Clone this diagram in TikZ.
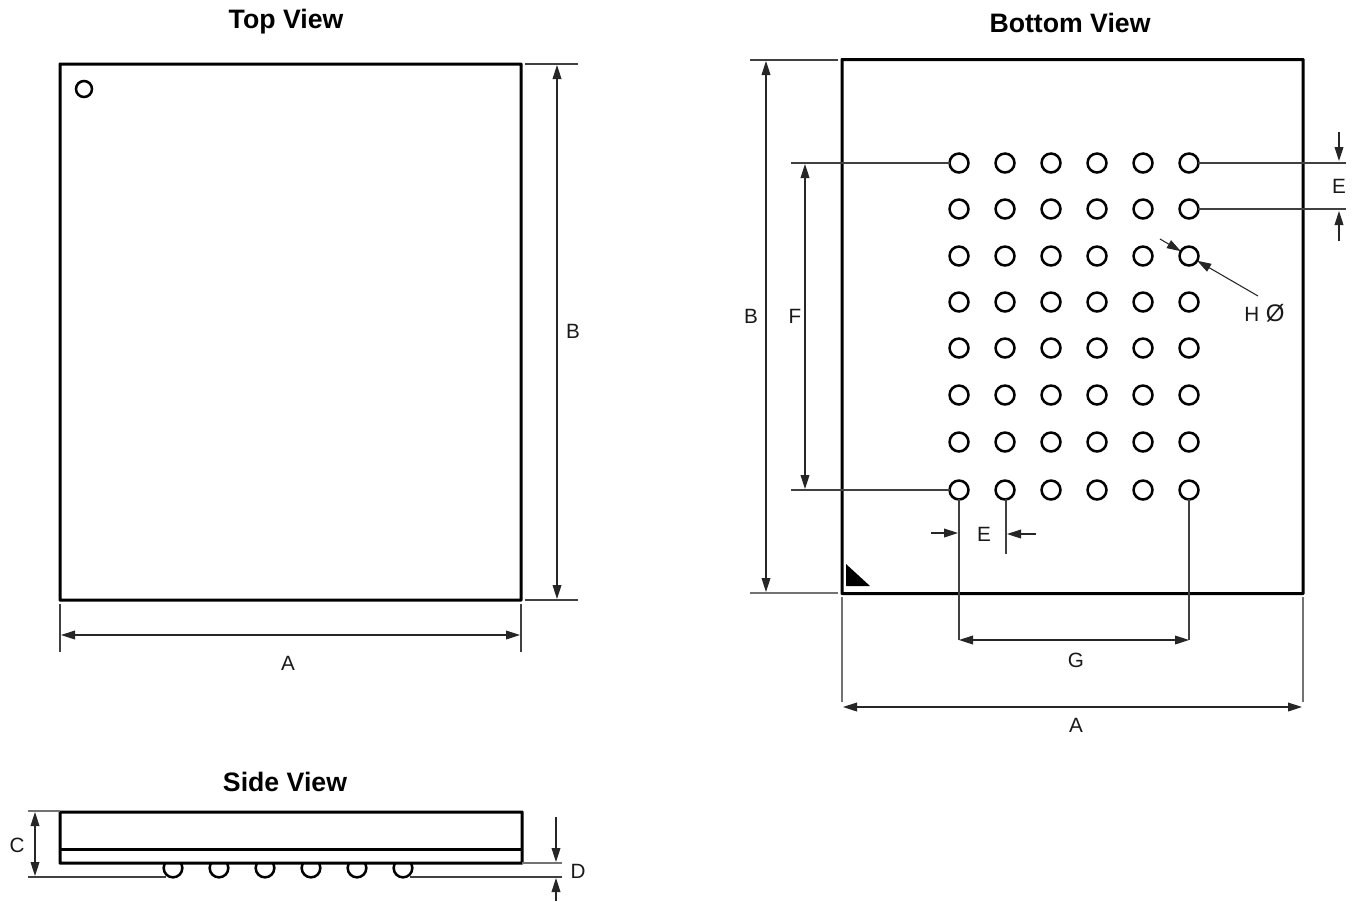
\documentclass[tikz,border=0pt]{standalone}
\usepackage{fontspec}
\setmainfont{Liberation Sans}
\usetikzlibrary{arrows.meta}
\tikzset{
  pkg/.style={draw=black,fill=white,line width=2.25pt,rounded corners=0.2pt,inner sep=0pt,outer sep=0pt,rectangle},
  ball/.style={draw=black,fill=white,circle,line width=1.9pt,inner sep=0pt,outer sep=0pt,minimum size=14.2pt},
  ext/.style={draw=black!75,line width=0.85pt},
  extlight/.style={draw=black!55,line width=0.85pt},
  dim/.style={draw=black!85,line width=0.8pt,{Triangle[length=10.5pt,width=6.6pt]}-{Triangle[length=10.5pt,width=6.6pt]}},
  dimto/.style={draw=black!85,line width=0.8pt,-{Triangle[length=10.5pt,width=6.6pt]}},
  lbl/.style={font=\fontsize{15.5pt}{17pt}\selectfont,inner sep=0pt,text=black!90},
  ttl/.style={font=\fontsize{20pt}{23pt}\selectfont\bfseries,inner sep=0pt},
}
\begin{document}
\begin{tikzpicture}[x=0.75pt,y=-0.75pt]
\useasboundingbox (0,0) rectangle (1356,901);
% ---------- Top view
\node[ttl] (ttltop) at (286,22) {Top View};
\node[pkg,minimum width=345.75pt,minimum height=402pt] (top) at (290.5,332) {};
\node[ball,minimum size=12pt] (pin1) at (84,89) {};
\coordinate (tbA) at (525,64); \coordinate (tbB) at (578,64);
\coordinate (tbC) at (525,600); \coordinate (tbD) at (578,600);
\draw[ext] (tbA) -- (tbB); \draw[ext] (tbC) -- (tbD);
\coordinate (tbU) at (557,65); \coordinate (tbL) at (557,599);
\draw[dim] (tbU) -- (tbL);
\node[lbl] (topB) at (573,331) {B};
\coordinate (taA) at (60,604); \coordinate (taB) at (60,652);
\coordinate (taC) at (521,604); \coordinate (taD) at (521,652);
\draw[ext] (taA) -- (taB); \draw[ext] (taC) -- (taD);
\coordinate (taL) at (61,635); \coordinate (taR) at (520,635);
\draw[dim] (taL) -- (taR);
\node[lbl] (topA) at (288,663) {A};
% ---------- Side view
\node[ttl] (ttlside) at (285,782) {Side View};
\foreach \i/\x in {1/173,2/219,3/265,4/311,5/357,6/403}
  \node[ball,minimum size=14pt] (s\i) at (\x,868) {};
\node[pkg,minimum width=346.5pt,minimum height=38.25pt] (side) at (291,837.5) {};
\coordinate (spL) at (60,849.5); \coordinate (spR) at (522,849.5);
\draw[line width=2.2pt] (spL) -- (spR);
\coordinate (scA) at (28,811); \coordinate (scB) at (60,811);
\coordinate (scC) at (28,877); \coordinate (sdA) at (522,863); \coordinate (sdB) at (562,863);
\coordinate (sdC) at (562,877);
\draw[extlight] (scA) -- (scB);
\draw[ext] (scC) -- (scC -| s1.south west);
\draw[extlight] (sdA) -- (sdB);
\draw[ext] (sdC -| s6.south east) -- (sdC);
\coordinate (scU) at (35,812); \coordinate (scD) at (35,876);
\draw[dim] (scU) -- (scD);
\node[lbl] (sideC) at (17,845) {C};
\coordinate (sdU0) at (556,817); \coordinate (sdU1) at (556,862);
\coordinate (sdD0) at (556,901); \coordinate (sdD1) at (556,878);
\draw[dimto] (sdU0) -- (sdU1);
\draw[dimto] (sdD0) -- (sdD1);
\node[lbl] (sideD) at (578,871) {D};
% ---------- Bottom view
\node[ttl] (ttlbot) at (1070,23) {Bottom View};
\node[pkg,minimum width=345.75pt,minimum height=400.5pt] (bot) at (1072.5,326.5) {};
\fill[black] (846,564) -- (846,586) -- (870,586) -- cycle;
\coordinate (bfA) at (791,163); \coordinate (bfB) at (791,490);
\coordinate (beA) at (1346,163); \coordinate (beB) at (1346,209);
\coordinate (bv1) at (959,640); \coordinate (bv2) at (1006,554); \coordinate (bv6) at (1189,640);
\foreach \c/\x in {1/959,2/1005,3/1051,4/1097,5/1143,6/1189}
  \foreach \r/\y in {1/163,2/209,3/256,4/302,5/348,6/395,7/442,8/490}
    \node[ball] (b\c\r) at (\x,\y) {};
\draw[ext] (b11) -- (bfA); \draw[ext] (b18) -- (bfB);
\draw[ext] (b61) -- (beA); \draw[ext] (b62) -- (beB);
\draw[ext] (b18) -- (bv1); \draw[ext] (b28.south) ++(1,0) -- (bv2); \draw[ext] (b68) -- (bv6);
\coordinate (bbA) at (750,60); \coordinate (bbB) at (838,60);
\coordinate (bbC) at (750,593); \coordinate (bbD) at (838,593);
\draw[ext] (bbA) -- (bbB); \draw[extlight] (bbC) -- (bbD);
\coordinate (bbU) at (766,61); \coordinate (bbL) at (766,592);
\draw[dim] (bbU) -- (bbL);
\node[lbl] (botB) at (751,316) {B};
\coordinate (bfU) at (805,164); \coordinate (bfL) at (805,489);
\draw[dim] (bfU) -- (bfL);
\node[lbl] (botF) at (795,316) {F};
\coordinate (reA0) at (1339,132); \coordinate (reA1) at (1339,161);
\coordinate (reB0) at (1339,241); \coordinate (reB1) at (1339,211);
\draw[dimto] (reA0) -- (reA1); \draw[dimto] (reB0) -- (reB1);
\node[lbl] (botE) at (1339,186) {E};
\coordinate (hA) at (1160,239);
\draw[dimto] (hA) -- (b63);
\coordinate (hB) at (1258,296);
\draw[dimto] (hB) -- (b63);
\node[lbl,anchor=west] (botH) at (1244,313) {H\hspace{5pt}{\fontsize{18pt}{18pt}\selectfont Ø}};
\coordinate (eA0) at (931,533); \coordinate (eA1) at (958,533);
\coordinate (eB0) at (1036,534); \coordinate (eB1) at (1007,534);
\draw[dimto] (eA0) -- (eA1); \draw[dimto] (eB0) -- (eB1);
\node[lbl] (botE2) at (984,534) {E};
\coordinate (gL) at (959,640); \coordinate (gR) at (1189,640);
\draw[dim] (gL) -- (gR);
\node[lbl] (botG) at (1076,660) {G};
\coordinate (vaA) at (842,597); \coordinate (vaB) at (842,702);
\coordinate (vaC) at (1303,597); \coordinate (vaD) at (1303,702);
\draw[extlight] (vaA) -- (vaB); \draw[extlight] (vaC) -- (vaD);
\coordinate (aL) at (843,707); \coordinate (aR) at (1302,707);
\draw[dim] (aL) -- (aR);
\node[lbl] (botA) at (1076,725) {A};
\end{tikzpicture}
\end{document}
